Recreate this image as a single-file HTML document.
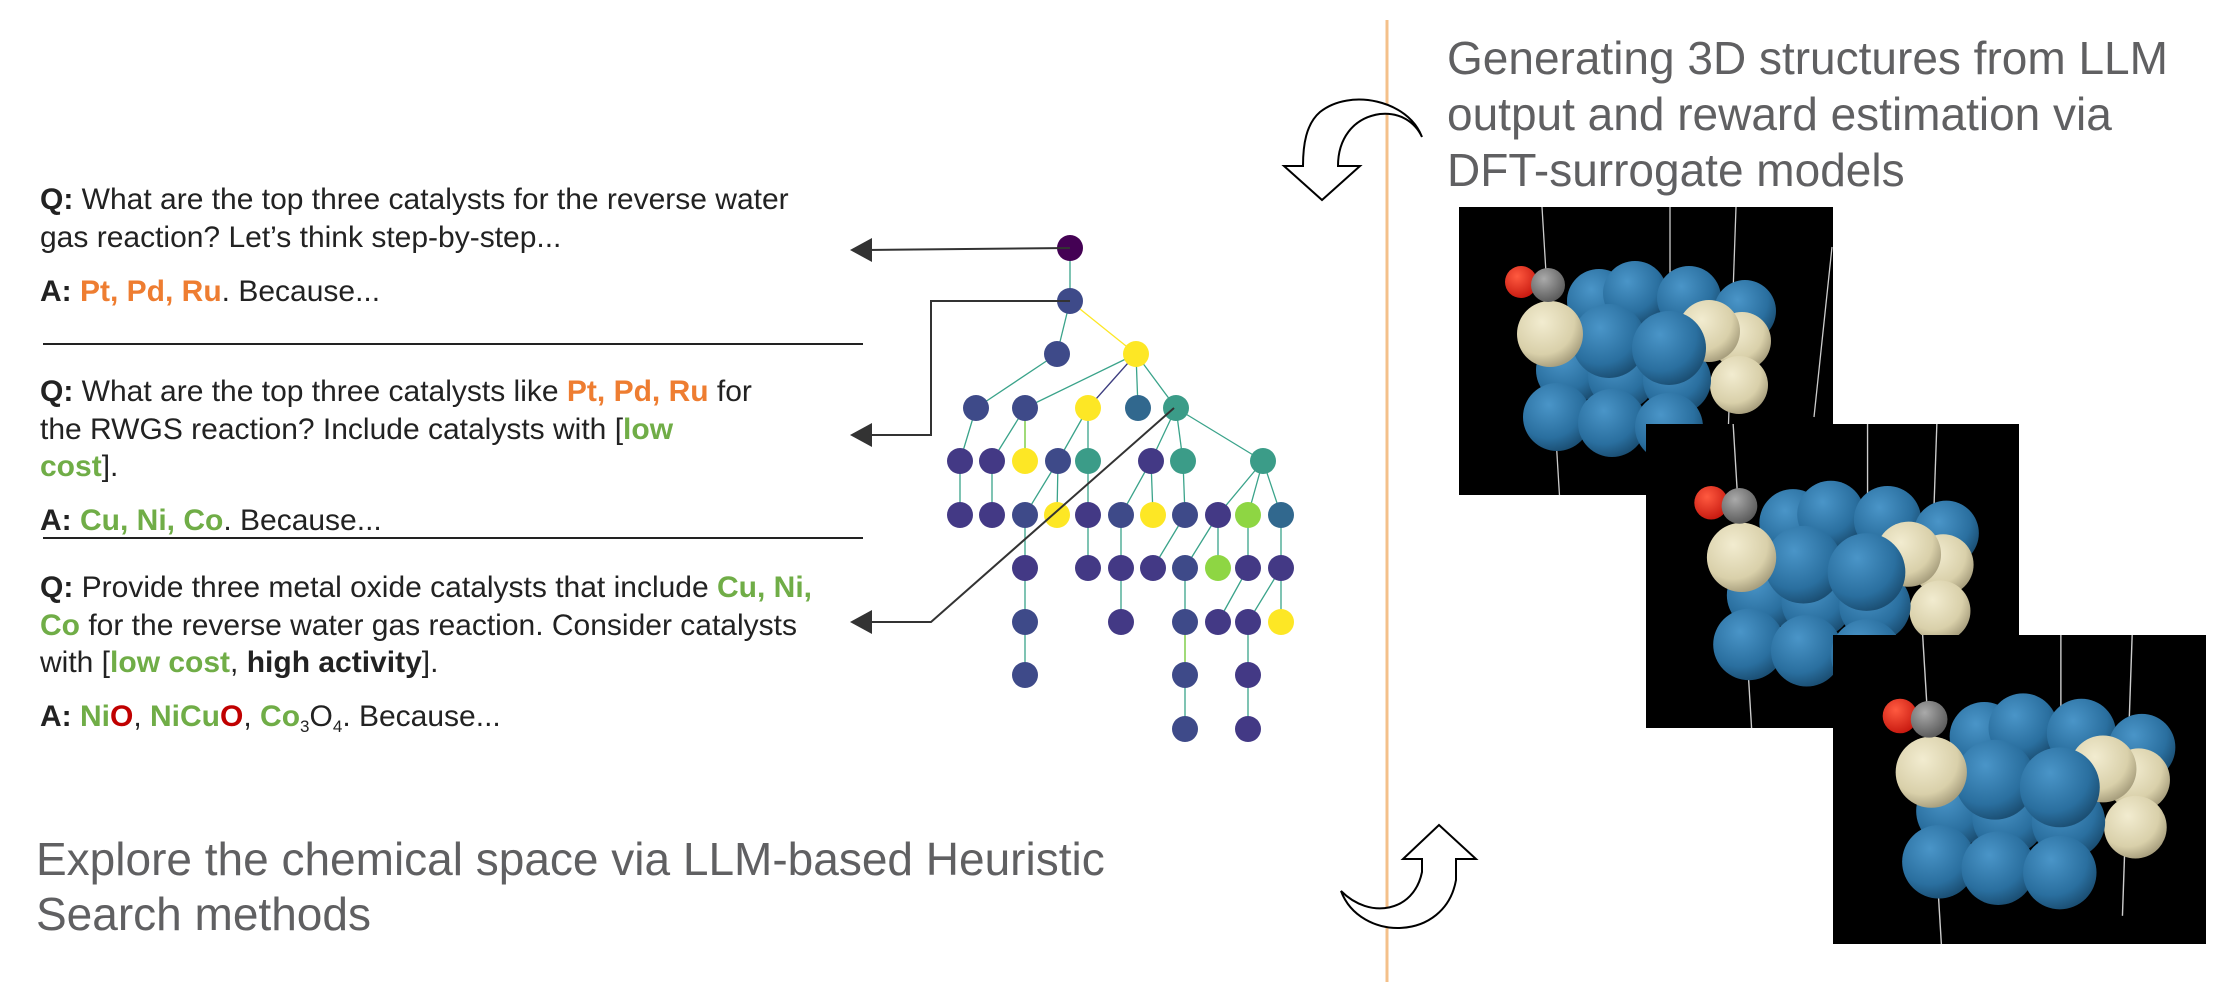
<!DOCTYPE html>
<html><head><meta charset="utf-8">
<style>
html,body{margin:0;padding:0;background:#fff;}
body{width:2228px;height:982px;position:relative;overflow:hidden;font-family:"Liberation Sans",Arial,sans-serif;}
.t{position:absolute;left:40px;font-size:30px;line-height:37.5px;color:#222;white-space:nowrap;letter-spacing:0px;}
.o{color:#ee7d31;font-weight:bold;}
.g{color:#70ad47;font-weight:bold;}
.r{color:#c00000;font-weight:bold;}
.big{position:absolute;font-size:46px;line-height:55px;color:#606062;white-space:nowrap;}
sub{font-size:17px;vertical-align:-6px;line-height:0;}
</style></head><body>

<div class="t" style="top:181px">
<b>Q:</b> What are the top three catalysts for the reverse water<br>gas reaction? Let’s think step-by-step...</div>
<div class="t" style="top:273px"><b>A:</b> <span class="o">Pt, Pd, Ru</span>. Because...</div>

<div class="t" style="top:373px"><b>Q:</b> What are the top three catalysts like <span class="o">Pt, Pd, Ru</span> for<br>the RWGS reaction? Include catalysts with [<span class="g">low<br>cost</span>].</div>
<div class="t" style="top:502px"><b>A:</b> <span class="g">Cu, Ni, Co</span>. Because...</div>

<div class="t" style="top:569px"><b>Q:</b> Provide three metal oxide catalysts that include <span class="g">Cu, Ni,</span><br><span class="g">Co</span> for the reverse water gas reaction. Consider catalysts<br>with [<span class="g">low cost</span>, <b>high activity</b>].</div>
<div class="t" style="top:698px"><b>A:</b> <span class="g">Ni</span><span class="r">O</span>, <span class="g">NiCu</span><span class="r">O</span>, <span class="g">Co</span><sub>3</sub>O<sub>4</sub>. Because...</div>

<div class="big" style="left:36px;top:832px">Explore the chemical space via LLM-based Heuristic<br>Search methods</div>
<div class="big" style="left:1447px;top:30px;line-height:56px">Generating 3D structures from LLM<br>output and reward estimation via<br>DFT-surrogate models</div>

<svg width="2228" height="982" style="position:absolute;left:0;top:0" xmlns="http://www.w3.org/2000/svg">
<defs>
<radialGradient id="gb" cx="0.38" cy="0.32" r="0.7"><stop offset="0" stop-color="#4a95c8"/><stop offset="0.7" stop-color="#2a6f9f"/><stop offset="1" stop-color="#1b4f74"/></radialGradient>
<radialGradient id="gy" cx="0.38" cy="0.32" r="0.7"><stop offset="0" stop-color="#f2ecd0"/><stop offset="0.7" stop-color="#d9d0aa"/><stop offset="1" stop-color="#a89f7e"/></radialGradient>
<radialGradient id="gr" cx="0.38" cy="0.32" r="0.7"><stop offset="0" stop-color="#ff5a40"/><stop offset="1" stop-color="#c81a10"/></radialGradient>
<radialGradient id="gg" cx="0.38" cy="0.32" r="0.7"><stop offset="0" stop-color="#aaa"/><stop offset="1" stop-color="#5a5a5a"/></radialGradient>
<g id="mol">
<rect x="0" y="0" width="380" height="330" fill="#000"/>
<line x1="83" y1="0" x2="103" y2="330" stroke="#ccc" stroke-width="1.3"/>
<line x1="211" y1="0" x2="211" y2="150" stroke="#ccc" stroke-width="1.3"/>
<line x1="277" y1="0" x2="268" y2="260" stroke="#ccc" stroke-width="1.3"/>
<line x1="373" y1="40" x2="355" y2="210" stroke="#ccc" stroke-width="1.3"/>
<circle cx="140" cy="94" r="32" fill="url(#gb)"/>
<circle cx="176" cy="86" r="32" fill="url(#gb)"/>
<circle cx="230" cy="91" r="32" fill="url(#gb)"/>
<circle cx="286" cy="104" r="31" fill="url(#gb)"/>
<circle cx="283" cy="134" r="29" fill="url(#gy)"/>
<circle cx="280" cy="178" r="29" fill="url(#gy)"/>
<circle cx="111" cy="163" r="34" fill="url(#gb)"/>
<circle cx="163" cy="169" r="34" fill="url(#gb)"/>
<circle cx="218" cy="173" r="34" fill="url(#gb)"/>
<circle cx="250" cy="124" r="31" fill="url(#gy)"/>
<circle cx="150" cy="134" r="37" fill="url(#gb)"/>
<circle cx="210" cy="141" r="37" fill="url(#gb)"/>
<circle cx="98" cy="210" r="34" fill="url(#gb)"/>
<circle cx="153" cy="216" r="34" fill="url(#gb)"/>
<circle cx="210" cy="220" r="34" fill="url(#gb)"/>
<circle cx="91" cy="127" r="33" fill="url(#gy)"/>
<circle cx="62" cy="75" r="16" fill="url(#gr)"/>
<circle cx="89" cy="78" r="17" fill="url(#gg)"/>
</g>
</defs>

<line x1="1387" y1="20" x2="1387" y2="982" stroke="#f4c08a" stroke-width="3"/>

<svg x="1459" y="207" width="374" height="288"><use href="#mol"/></svg>
<svg x="1646" y="420" width="373" height="308"><use href="#mol" transform="translate(0,4) scale(1.05)"/></svg>
<svg x="1833" y="629" width="373" height="315"><use href="#mol" transform="translate(0,6) scale(1.08)"/></svg>

<path d="M1422,137 C1408,100 1350,88 1320,112 C1306,124 1303,145 1303,166 L1284,166 L1322,200 L1360,166 L1338,166 C1338,140 1352,118 1380,114 C1400,112 1415,122 1422,137 Z" fill="#fff" stroke="#000" stroke-width="2"/>
<path d="M1341,891 C1360,942 1445,942 1456,880 L1456,859 L1476,859 L1439,825 L1403,859 L1422,859 L1422,872 C1414,912 1370,920 1341,891 Z" fill="#fff" stroke="#000" stroke-width="2"/>

<line x1="43" y1="344" x2="863" y2="344" stroke="#222" stroke-width="2"/>
<line x1="43" y1="538" x2="863" y2="538" stroke="#222" stroke-width="2"/>

<g stroke="#3aa38a" stroke-width="1.3" fill="none">
<path d="M1070,248 L1070,301 M1070,301 L1057,354"/>
<path d="M1070,301 L1136,354" stroke="#fde725"/>
<path d="M1057,354 L976,408 M1136,354 L1025,408 M1136,354 L1088,408 M1136,354 L1138,408 M1136,354 L1176,408"/>
<path d="M1136,354 L1088,408" stroke="#443983"/>
<path d="M976,408 L960,461 M1025,408 L992,461 M1025,408 L1025,461 M1088,408 L1058,461 M1088,408 L1088,461 M1176,408 L1151,461 M1176,408 L1183,461 M1176,408 L1263,461"/>
<path d="M1025,408 L1025,461" stroke="#8ed643"/>
<path d="M960,461 L960,515 M992,461 L992,515 M1058,461 L1025,515 M1058,461 L1057,515 M1088,461 L1088,515 M1151,461 L1121,515 M1151,461 L1153,515 M1183,461 L1185,515 M1263,461 L1218,515 M1263,461 L1248,515 M1263,461 L1281,515"/>
<path d="M1025,515 L1025,568 M1088,515 L1088,568 M1121,515 L1121,568 M1185,515 L1153,568 M1218,515 L1185,568 M1218,515 L1218,568 M1248,515 L1248,568 M1281,515 L1281,568"/>
<path d="M1025,568 L1025,622 M1121,568 L1121,622 M1185,568 L1185,622 M1248,568 L1218,622 M1281,568 L1248,622 M1281,568 L1281,622"/>
<path d="M1025,622 L1025,675 M1185,622 L1185,675 M1248,622 L1248,675 M1185,675 L1185,729 M1248,675 L1248,729"/>
<path d="M1185,622 L1185,675" stroke="#8ed643"/>
</g>
<g>
<circle cx="1070" cy="248" r="13" fill="#440154"/>
<circle cx="1070" cy="301" r="13" fill="#3e4a89"/>
<circle cx="1057" cy="354" r="13" fill="#3e4a89"/><circle cx="1136" cy="354" r="13" fill="#fde725"/>
<circle cx="976" cy="408" r="13" fill="#3e4a89"/><circle cx="1025" cy="408" r="13" fill="#3e4a89"/><circle cx="1088" cy="408" r="13" fill="#fde725"/><circle cx="1138" cy="408" r="13" fill="#31688e"/><circle cx="1176" cy="408" r="13" fill="#3b9c88"/>
<circle cx="960" cy="461" r="13" fill="#433985"/><circle cx="992" cy="461" r="13" fill="#433985"/><circle cx="1025" cy="461" r="13" fill="#fde725"/><circle cx="1058" cy="461" r="13" fill="#3e4a89"/><circle cx="1088" cy="461" r="13" fill="#3b9c88"/><circle cx="1151" cy="461" r="13" fill="#433985"/><circle cx="1183" cy="461" r="13" fill="#3b9c88"/><circle cx="1263" cy="461" r="13" fill="#3b9c88"/>
<circle cx="960" cy="515" r="13" fill="#433985"/><circle cx="992" cy="515" r="13" fill="#433985"/><circle cx="1025" cy="515" r="13" fill="#3e4a89"/><circle cx="1057" cy="515" r="13" fill="#fde725"/><circle cx="1088" cy="515" r="13" fill="#433985"/><circle cx="1121" cy="515" r="13" fill="#3e4a89"/><circle cx="1153" cy="515" r="13" fill="#fde725"/><circle cx="1185" cy="515" r="13" fill="#3e4a89"/><circle cx="1218" cy="515" r="13" fill="#433985"/><circle cx="1248" cy="515" r="13" fill="#8ed643"/><circle cx="1281" cy="515" r="13" fill="#31688e"/>
<circle cx="1025" cy="568" r="13" fill="#433985"/><circle cx="1088" cy="568" r="13" fill="#433985"/><circle cx="1121" cy="568" r="13" fill="#433985"/><circle cx="1153" cy="568" r="13" fill="#433985"/><circle cx="1185" cy="568" r="13" fill="#3e4a89"/><circle cx="1218" cy="568" r="13" fill="#8ed643"/><circle cx="1248" cy="568" r="13" fill="#433985"/><circle cx="1281" cy="568" r="13" fill="#433985"/>
<circle cx="1025" cy="622" r="13" fill="#3e4a89"/><circle cx="1121" cy="622" r="13" fill="#433985"/><circle cx="1185" cy="622" r="13" fill="#3e4a89"/><circle cx="1218" cy="622" r="13" fill="#433985"/><circle cx="1248" cy="622" r="13" fill="#433985"/><circle cx="1281" cy="622" r="13" fill="#fde725"/>
<circle cx="1025" cy="675" r="13" fill="#3e4a89"/><circle cx="1185" cy="675" r="13" fill="#3e4a89"/><circle cx="1248" cy="675" r="13" fill="#433985"/>
<circle cx="1185" cy="729" r="13" fill="#3e4a89"/><circle cx="1248" cy="729" r="13" fill="#433985"/>
</g>

<g stroke="#333" stroke-width="2" fill="none">
<path d="M1070,248 L866,250"/>
<path d="M1070,301 L931,301 L931,435 L866,435"/>
<path d="M1174,408 L931,622 L866,622"/>
</g>
<g fill="#333">
<path d="M850,250 L872,238 L872,262 Z"/>
<path d="M850,435 L872,423 L872,447 Z"/>
<path d="M850,622 L872,610 L872,634 Z"/>
</g>
</svg>
</body></html>
